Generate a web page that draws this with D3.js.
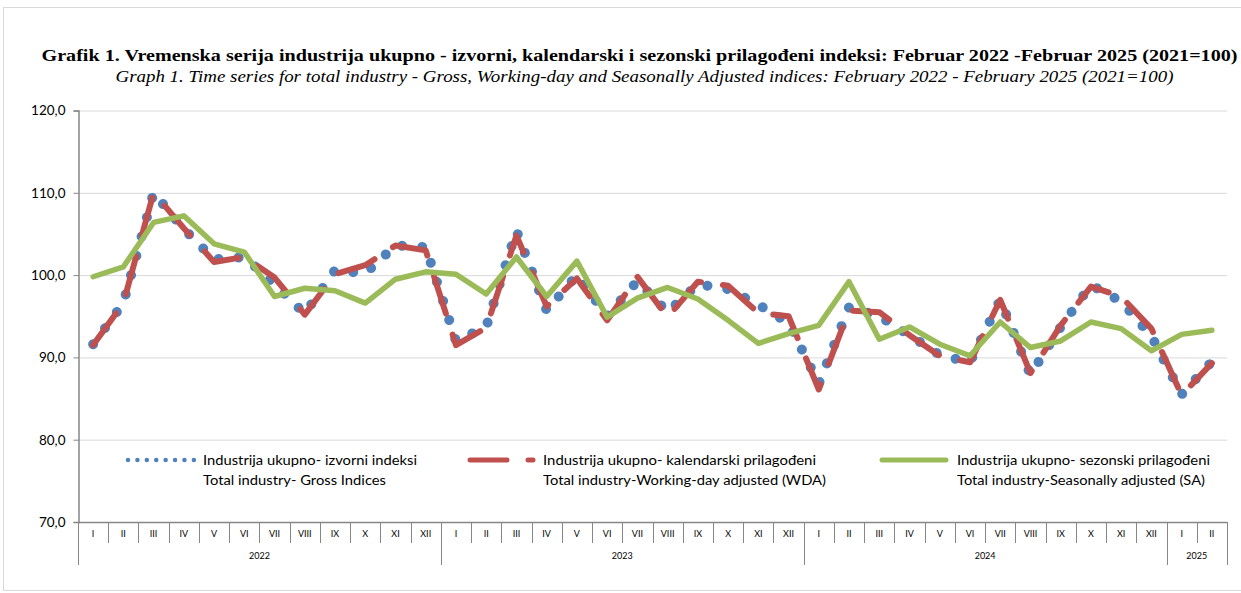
<!DOCTYPE html>
<html><head><meta charset="utf-8">
<script src="https://cdn.jsdelivr.net/npm/d3@7"></script>
<style>
html,body{margin:0;padding:0;background:#fff;}
svg{display:block;}
</style></head>
<body>
<svg id="chart" width="1241" height="593"></svg>
<script>
// ---------- data ----------
const monthLabels = ["I","II","III","IV","V","VI","VII","VIII","IX","X","XI","XII",
                     "I","II","III","IV","V","VI","VII","VIII","IX","X","XI","XII",
                     "I","II","III","IV","V","VI","VII","VIII","IX","X","XI","XII",
                     "I","II"];
const yearLabels = ["2022","2023","2024","2025"];
const yearCounts = [12,12,12,2];
const yTicks = [70,80,90,100,110,120];

const grossIdx = [91.6,96.6,110.0,105.6,101.9,102.2,98.9,95.3,100.6,100.2,103.6,103.4,
                  92.0,93.7,105.4,95.7,100.0,95.0,99.3,95.5,98.9,98.3,96.4,94.2,
                  86.8,96.1,95.0,92.7,90.3,89.4,97.0,87.9,93.7,98.8,96.8,92.6,
                  85.5,89.5];
const wdaIdx   = [91.5,96.6,110.0,105.7,101.6,102.2,99.7,95.2,100.1,101.2,103.6,103.0,
                  91.5,93.6,104.8,96.2,99.6,94.5,99.8,94.9,99.2,98.7,95.4,95.0,
                  86.1,95.7,95.5,92.7,90.2,89.4,97.0,88.1,93.9,98.6,97.4,93.5,
                  85.4,89.3];
const saIdx    = [99.8,101.0,106.4,107.2,103.8,102.8,97.4,98.4,98.1,96.6,99.5,100.4,
                  100.1,97.7,102.2,97.4,101.7,94.9,97.2,98.5,97.1,94.5,91.7,92.9,
                  93.9,99.2,92.2,93.7,91.6,90.2,94.3,91.2,92.0,94.3,93.5,90.8,
                  92.8,93.3];

const titleText = "Grafik 1. Vremenska serija industrija ukupno - izvorni, kalendarski i sezonski prilagođeni indeksi: Februar 2022 -Februar 2025 (2021=100)";
const subtitleText = "Graph 1. Time series for total industry - Gross, Working-day and Seasonally Adjusted indices: February 2022 - February 2025 (2021=100)";
const legendLines = [
  ["Industrija ukupno- izvorni indeksi","Total industry- Gross Indices"],
  ["Industrija ukupno- kalendarski prilagođeni","Total industry-Working-day adjusted (WDA)"],
  ["Industrija ukupno- sezonski prilagođeni","Total industry-Seasonally adjusted (SA)"]
];

// ---------- setup ----------
const svg = d3.select("#chart");
const cats = monthLabels.map((m,i)=>i);
const x = d3.scaleBand().domain(cats).range([78,1227]).paddingInner(0).paddingOuter(0);
const y = d3.scaleLinear().domain([70,120]).range([522,110.5]);
const cx = i => x(i) + x.bandwidth()/2;

const BLUE = "#4F81BD", RED = "#C0504D", GREEN = "#9BBB59";
const FONT = "Lato, 'Open Sans', sans-serif";

// border
svg.append("rect").attr("x",3.5).attr("y",7.5).attr("width",1240).attr("height",583)
  .attr("fill","none").attr("stroke","#d9d9d9").attr("stroke-width",1);

// titles
svg.append("text").attr("x",639.5).attr("y",61).attr("text-anchor","middle")
  .attr("font-family","'Liberation Serif', 'DejaVu Serif', serif").attr("font-weight","bold")
  .attr("font-size",17.5).attr("textLength",1196).attr("lengthAdjust","spacingAndGlyphs")
  .attr("fill","#000").text(titleText);
svg.append("text").attr("x",644.5).attr("y",82).attr("text-anchor","middle")
  .attr("font-family","'Liberation Serif', 'DejaVu Serif', serif").attr("font-style","italic")
  .attr("font-size",16.5).attr("textLength",1058).attr("lengthAdjust","spacingAndGlyphs")
  .attr("fill","#000").text(subtitleText);

// gridlines
svg.append("g").selectAll("line").data(yTicks.filter(t=>t>70)).join("line")
  .attr("x1",78).attr("x2",1227).attr("y1",d=>y(d)+0.5).attr("y2",d=>y(d)+0.5)
  .attr("stroke","#d9d9d9").attr("stroke-width",1);

// y axis
const yAxis = svg.append("g").attr("transform","translate(78.5,0)")
  .call(d3.axisLeft(y).tickValues(yTicks).tickSize(5).tickPadding(8)
    .tickFormat(d=>d.toFixed(1).replace(".",",")));
yAxis.select(".domain").attr("stroke","#868686").attr("stroke-width",1.5);
yAxis.selectAll(".tick line").attr("stroke","#868686");
yAxis.selectAll(".tick text").attr("font-family",FONT).attr("font-size",13.5).attr("fill","#000");

// x axis
const xg = svg.append("g");
xg.append("line").attr("x1",78).attr("x2",1227).attr("y1",522.5).attr("y2",522.5)
  .attr("stroke","#868686").attr("stroke-width",1.5);
const yearStarts = [];
let acc = 0;
yearCounts.forEach(n=>{ yearStarts.push(acc); acc += n; });
const boundaryIdx = new Set(yearStarts);
const tickPos = cats.map(i=>x(i)).concat([x(cats.length-1)+x.bandwidth()]);
xg.selectAll("line.tk").data(tickPos).join("line").attr("class","tk")
  .attr("x1",d=>Math.round(d)+0.5).attr("x2",d=>Math.round(d)+0.5)
  .attr("y1",522).attr("y2",(d,i)=> (boundaryIdx.has(i) || i===cats.length) ? 565 : 543)
  .attr("stroke","#868686").attr("stroke-width",1);
xg.selectAll("text.m").data(monthLabels).join("text").attr("class","m")
  .attr("x",(d,i)=>cx(i)).attr("y",537).attr("text-anchor","middle")
  .attr("font-family",FONT).attr("font-size",9).attr("fill","#000").text(d=>d);
xg.selectAll("text.yr").data(yearLabels).join("text").attr("class","yr")
  .attr("x",(d,k)=>{ const s=yearStarts[k], e=s+yearCounts[k]-1; return (x(s)+x(e)+x.bandwidth())/2; })
  .attr("y",559).attr("text-anchor","middle")
  .attr("font-family",FONT).attr("font-size",9).attr("fill","#000").text(d=>d);

// lines
const line = d3.line().x((d,i)=>cx(i)).y(d=>y(d));
svg.append("path").datum(grossIdx).attr("d",line).attr("fill","none")
  .attr("stroke",BLUE).attr("stroke-width",10).attr("stroke-linecap","round")
  .attr("stroke-linejoin","round").attr("stroke-dasharray","0.01 20");
svg.append("path").datum(wdaIdx).attr("d",line).attr("fill","none")
  .attr("stroke",RED).attr("stroke-width",6).attr("stroke-linecap","round")
  .attr("stroke-linejoin","round").attr("stroke-dasharray","39 22");
svg.append("path").datum(saIdx).attr("d",line).attr("fill","none")
  .attr("stroke",GREEN).attr("stroke-width",5.5).attr("stroke-linecap","round")
  .attr("stroke-linejoin","round");

// legend
const lg = svg.append("g");
const lgY1 = 460, lgY2 = 480;
lg.append("line").attr("x1",128).attr("x2",194).attr("y1",lgY1).attr("y2",lgY1)
  .attr("stroke",BLUE).attr("stroke-width",4.5).attr("stroke-linecap","round")
  .attr("stroke-dasharray","0.01 9.4");
lg.append("line").attr("x1",470).attr("x2",533).attr("y1",lgY1).attr("y2",lgY1)
  .attr("stroke",RED).attr("stroke-width",5).attr("stroke-linecap","round")
  .attr("stroke-dasharray","37 21");
lg.append("line").attr("x1",882).attr("x2",946).attr("y1",lgY1).attr("y2",lgY1)
  .attr("stroke",GREEN).attr("stroke-width",5).attr("stroke-linecap","round");
const lgX = [203,543,957];
const lgW = [[214,183],[273,283],[253,248]];
legendLines.forEach((pair,k)=>{
  pair.forEach((t,j)=>{
    lg.append("text").attr("x",lgX[k]).attr("y",(j===0?lgY1:lgY2)+4.5)
      .attr("font-family",FONT).attr("font-size",13.5).attr("fill","#000")
      .attr("textLength",lgW[k][j]).attr("lengthAdjust","spacingAndGlyphs").text(t);
  });
});
</script>
</body></html>
